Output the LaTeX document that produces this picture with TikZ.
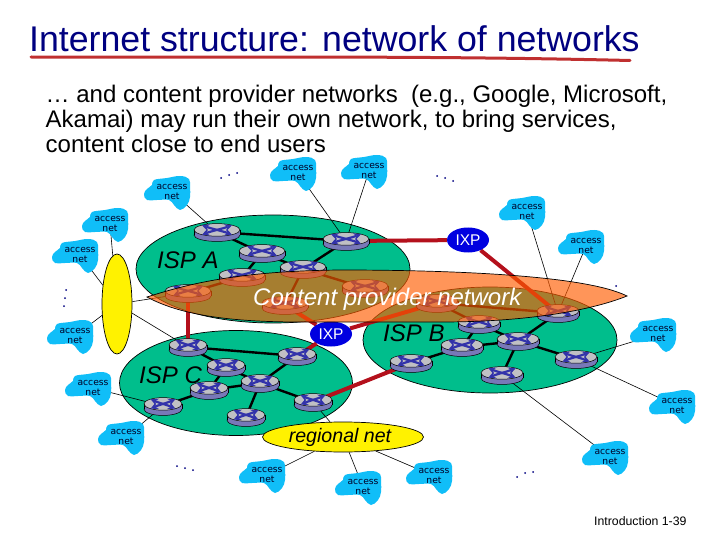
\documentclass[tikz,border=0pt]{standalone}
\usepackage{fontspec}
\setmainfont{Liberation Sans}
\newfontfamily\cloudfont{DejaVu Sans}
\usetikzlibrary{shapes.geometric}
\definecolor{ispGreen}{RGB}{0,190,140}
\definecolor{cloudBlue}{RGB}{16,190,248}
\definecolor{routerTop}{RGB}{192,192,196}
\definecolor{routerSide}{RGB}{120,120,184}
\definecolor{routerCross}{RGB}{50,50,170}
\definecolor{linkRed}{RGB}{180,16,28}
\definecolor{lineRed}{RGB}{192,48,48}
\definecolor{overlayOrange}{RGB}{255,92,0}
\definecolor{titleBlue}{RGB}{0,0,128}
\pgfdeclarelayer{ispLayer}
\pgfdeclarelayer{linkLayer}
\pgfsetlayers{ispLayer,linkLayer,main}
\tikzset{
	ispShape/.style={ellipse,draw=black,fill=ispGreen,inner sep=0pt,line width=0.7pt},
	yellowShape/.style={ellipse,draw=black,fill=yellow,inner sep=0pt,line width=0.7pt},
	ixpShape/.style={ellipse,fill=blue!88!black,text=white,inner sep=0pt,minimum width=42,minimum height=25,font=\fontsize{15.5}{17}\selectfont},
	thinLink/.style={black,line width=0.6pt},
	blackLink/.style={black,line width=2.4pt},
	redLink/.style={linkRed,line width=4pt},
	plainText/.style={anchor=base west,inner sep=0pt},
	ispText/.style={plainText,font=\fontsize{24}{26}\selectfont\itshape},
	cloudText/.style={inner sep=0pt,align=center,text=black!85!blue,font=\cloudfont\fontsize{9.2}{10}\selectfont}
}
\newcommand{\myCloud}[3]{
\fill[cloudBlue,shift={(#2,#3)}] plot[smooth cycle,tension=0.7] coordinates {(-28,2) (-25,-3) (-20,-7) (-18,-12) (-5,-14) (8,-16) (17,-13) (18,-5) (18,5) (15,13) (8,18) (2,13) (-3,8) (-15,8) (-25,8)};
\node[cloudText] (#1) at (#2,#3) {access\\net};
}
\newcommand{\myRouter}[4]{
\begin{scope}[shift={(#2,#3)},xscale=#4/46,yscale=1.05]
\draw[fill=routerSide,line width=0.5pt] (0,3) ellipse (23 and 6);
\fill[routerSide] (-23,-2) rectangle (23,3);
\draw[line width=0.5pt] (-23,-2) -- (-23,3) (23,-2) -- (23,3);
\draw[fill=routerTop,line width=0.5pt] (0,-2) ellipse (23 and 6);
\draw[routerCross,line width=2.2pt,stealth-stealth] (-15,-6.5) .. controls (-5,-3) and (5,-1) .. (15,2.5);
\draw[routerCross,line width=2.2pt,stealth-stealth] (-15,2.5) .. controls (-5,-1) and (5,-3) .. (15,-6.5);
\end{scope}
\node[inner sep=0pt,minimum size=0pt] (#1) at (#2,#3) {};
}
\newcommand{\myDots}[6]{
\fill[titleBlue] (#1,#2) circle (1) (#3,#4) circle (1) (#5,#6) circle (1);
}

\begin{document}
\begin{tikzpicture}[x=1pt,y=-1pt]
	\useasboundingbox (0,0) rectangle (720,540);
	% title and text
	\node[plainText,text=titleBlue,font=\fontsize{35.7}{38}\selectfont] (title) at (29,52) {Internet structure: network of networks};
	\draw[lineRed,line width=3pt,line cap=round] (31,57) .. controls (200,58) and (400,55) .. (630,60.5);
	\node[anchor=north west,inner sep=0pt,align=left,font=\fontsize{24}{25}\selectfont] (intro) at (45.5,85) {… and content provider networks~ (e.g., Google, Microsoft,\\Akamai) may run their own network, to bring services,\\content close to end users};
	% routers of isp a
	\myRouter{A1}{217}{232}{46}
	\myRouter{A2}{262}{253}{46}
	\myRouter{A3}{242}{277}{46}
	\myRouter{A4}{303}{269}{46}
	\myRouter{A5}{346}{241}{46}
	\myRouter{A6}{188}{293}{46}
	\myRouter{A7}{285}{305}{46}
	\myRouter{A8}{365}{288}{46}
	% routers of isp b
	\myRouter{B1}{437}{303}{42}
	\myRouter{B2}{558}{313}{42}
	\myRouter{B3}{479}{324}{42}
	\myRouter{B4}{518}{341}{42}
	\myRouter{B5}{462}{347}{42}
	\myRouter{B6}{411}{363}{42}
	\myRouter{B7}{576}{359}{42}
	\myRouter{B8}{502}{375}{42}
	% routers of isp c
	\myRouter{C1}{188}{347}{38}
	\myRouter{C2}{297}{356}{38}
	\myRouter{C3}{226}{367}{38}
	\myRouter{C4}{260}{383}{38}
	\myRouter{C5}{209}{390}{38}
	\myRouter{C6}{163}{406}{38}
	\myRouter{C7}{313}{402}{38}
	\myRouter{C8}{246}{417}{38}
	% access nets
	\myCloud{N1}{172}{192}
	\myCloud{N2}{110}{224}
	\myCloud{N3}{80}{255}
	\myCloud{N4}{75}{336}
	\myCloud{N5}{93}{388}
	\myCloud{N6}{126}{437}
	\myCloud{N7}{298}{173}
	\myCloud{N8}{369}{171}
	\myCloud{N9}{527}{212}
	\myCloud{N10}{586}{246}
	\myCloud{N11}{658}{334}
	\myCloud{N12}{677}{406}
	\myCloud{N13}{610}{457}
	\myCloud{N14}{267}{475}
	\myCloud{N15}{363}{487}
	\myCloud{N16}{434}{476}
	% ixps and yellow nets
	\node[ixpShape] (IXP1) at (468,240) {IXP};
	\node[ixpShape] (IXP2) at (331,334) {IXP};
	\node[yellowShape,minimum width=30,minimum height=100] (hub) at (117,304) {};
	\node[yellowShape,minimum width=161,minimum height=30,font=\fontsize{19.6}{22}\selectfont\itshape] (regional) at (343,437) {\hspace*{-6pt}regional net};
	% isp shapes
	\begin{pgfonlayer}{ispLayer}
		\node[ispShape,minimum width=274,minimum height=108] (ispA) at (273,269) {};
		\node[ispShape,minimum width=254,minimum height=106] (ispB) at (490,340) {};
		\node[ispShape,minimum width=233,minimum height=105] (ispC) at (236,383) {};
	\end{pgfonlayer}
	% links
	\begin{pgfonlayer}{linkLayer}
		% inside isp a
		\draw[blackLink] (A1) -- (A5);
		\draw[blackLink] (A1) -- (A2);
		\draw[blackLink] (A2) -- (A3);
		\draw[blackLink] (A2) -- (A4);
		\draw[blackLink] (A5) -- (A4);
		\draw[blackLink] (A3) -- (A6);
		\draw[blackLink] (A4) -- (A7);
		\draw[blackLink] (A4) -- (A8);
		% inside isp b
		\draw[blackLink] (B1) -- (B2);
		\draw[blackLink] (B1) -- (B3);
		\draw[blackLink] (B3) -- (B4);
		\draw[blackLink] (B2) -- (B4);
		\draw[blackLink] (B4) -- (B5);
		\draw[blackLink] (B3) -- (B5);
		\draw[blackLink] (B5) -- (B6);
		\draw[blackLink] (B4) -- (B7);
		\draw[blackLink] (B4) -- (B8);
		% inside isp c
		\draw[blackLink] (C1) -- (C2);
		\draw[blackLink] (C1) -- (C3);
		\draw[blackLink] (C3) -- (C4);
		\draw[blackLink] (C2) -- (C4);
		\draw[blackLink] (C4) -- (C5);
		\draw[blackLink] (C3) -- (C5);
		\draw[blackLink] (C5) -- (C6);
		\draw[blackLink] (C4) -- (C7);
		\draw[blackLink] (C4) -- (C8);
		% between isps
		\draw[redLink] (A5) -- (IXP1);
		\draw[redLink] (IXP1) -- (B2);
		\draw[redLink] (A6) -- (C1);
		\draw[redLink] (A7) -- (IXP2);
		\draw[redLink] (IXP2) -- (B1);
		\draw[redLink] (IXP2) -- (C2);
		\draw[redLink] (C7) -- (B6);
		% access lines
		\draw[thinLink] (N1) -- (A1);
		\draw[thinLink] (N7) -- (A5);
		\draw[thinLink] (N8) -- (A5);
		\draw[thinLink] (N9) -- (B2);
		\draw[thinLink] (N10) -- (B2);
		\draw[thinLink] (N11) -- (B7);
		\draw[thinLink] (N12) -- (B7);
		\draw[thinLink] (N13) -- (B8);
		\draw[thinLink] (N5) -- (C6);
		\draw[thinLink] (N6) -- (C6);
		\draw[thinLink] (N2) -- (hub);
		\draw[thinLink] (N3) -- (hub);
		\draw[thinLink] (N4) -- (hub);
		\draw[thinLink] (hub) -- (A6);
		\draw[thinLink] (hub) -- (C1);
		\draw[thinLink] (regional) -- (C7);
		\draw[thinLink] (regional) -- (N14);
		\draw[thinLink] (regional) -- (N15);
		\draw[thinLink] (regional) -- (N16);
	\end{pgfonlayer}
	% content provider on top
	\draw[fill=overlayOrange,fill opacity=0.65,line width=0.7pt] (147,297) .. controls (185,285) and (235,271) .. (340,270) .. controls (450,270) and (585,275) .. (627,296) .. controls (600,307) and (540,322) .. (440,322) -- (300,322) .. controls (230,322) and (180,315) .. (147,297) -- cycle;
	\node[ispText,text=white] (content) at (253,305) {Content provider network};
	% isp labels
	\node[ispText] (labelA) at (157,268) {ISP A};
	\node[ispText] (labelB) at (383,341) {ISP B};
	\node[ispText] (labelC) at (139,383) {ISP C};
	% dots
	\myDots{221}{178}{229}{175}{237}{173}
	\myDots{437}{176}{445}{178}{453}{181}
	\myDots{66}{290}{65}{298}{64}{306}
	\myDots{177}{466}{185}{468}{193}{470}
	\myDots{517}{477}{525}{473}{533}{472}
	\fill[titleBlue] (616,286) circle (1);
	% footer
	\node[plainText,font=\fontsize{12.3}{14}\selectfont] (footer) at (594,525) {Introduction 1-39};
\end{tikzpicture}
\end{document}
